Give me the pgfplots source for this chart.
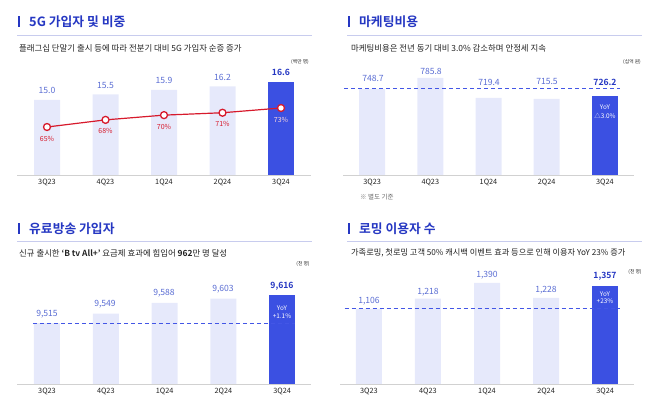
\documentclass[border=0pt]{standalone}
\usepackage{fontspec}
\setmainfont{Noto Sans CJK KR}[BoldFont={Noto Sans CJK KR Bold}]
\usepackage{pgfplots}
\pgfplotsset{compat=1.18}
\definecolor{lightbar}{HTML}{E6E9FB}
\definecolor{darkbar}{HTML}{3B50E2}
\definecolor{titleblue}{HTML}{2537C2}
\definecolor{lblblue}{HTML}{5A6DD3}
\definecolor{sepline}{HTML}{C8CCEE}
\definecolor{redline}{HTML}{D71A2C}
\definecolor{txt}{HTML}{222222}
\definecolor{dashc}{HTML}{4356E6}
\def\Y#1{{404pt-#1pt}}
\newcommand\fs[1]{\fontsize{#1}{#1}\selectfont}
\pgfplotsset{
  panel/.style={scale only axis, height=110pt, anchor=south west,
    axis x line*=bottom, hide y axis,
    x axis line style={draw=black!18, line width=0.7pt, -},
    xtick={0,1,2,3,4}, xticklabels={3Q23,4Q23,1Q24,2Q24,3Q24},
    major tick length=0pt,
    xticklabel style={font=\fs{7.3}, text=txt, yshift=-1pt},
    clip=false},
  lbar/.style={ybar, bar width=26pt, bar shift=0pt, fill=lightbar, draw=none},
  dbar/.style={ybar, bar width=26pt, bar shift=0pt, fill=darkbar, draw=none},
  dline/.style={color=dashc, solid, line width=1pt, dash pattern=on 4pt off 3pt}
}
\begin{document}
\begin{tikzpicture}
\useasboundingbox (0pt,0pt) rectangle (658pt,404pt);
% ---------- Titles, separators, subtitles ----------
\foreach \x/\y in {19/22, 349/22, 19/229, 349/229}{
  \fill[titleblue] (\x pt-0.9pt,\Y{\y-5.5}) rectangle (\x pt+0.9pt,\Y{\y+5.5});
}
\node[anchor=west, inner sep=0pt, text=titleblue, font=\fs{12.8}\bfseries] at (29pt,\Y{22}) {5G 가입자 및 비중};
\node[anchor=west, inner sep=0pt, text=titleblue, font=\fs{12.8}\bfseries] at (359pt,\Y{22}) {마케팅비용};
\node[anchor=west, inner sep=0pt, text=titleblue, font=\fs{12.8}\bfseries] at (29pt,\Y{229}) {유료방송 가입자};
\node[anchor=west, inner sep=0pt, text=titleblue, font=\fs{12.8}\bfseries] at (359pt,\Y{229}) {로밍 이용자 수};
\draw[sepline, line width=0.8pt] (17pt,\Y{35.5}) -- (312pt,\Y{35.5});
\draw[sepline, line width=0.8pt] (347pt,\Y{35.5}) -- (642pt,\Y{35.5});
\draw[sepline, line width=0.8pt] (17pt,\Y{241}) -- (312pt,\Y{241});
\draw[sepline, line width=0.8pt] (347pt,\Y{241}) -- (642pt,\Y{241});
\node[anchor=west, inner sep=0pt, text=txt, font=\fs{8.4}] at (19pt,\Y{48}) {플래그십 단말기 출시 등에 따라 전분기 대비 5G 가입자 순증 증가};
\node[anchor=west, inner sep=0pt, text=txt, font=\fs{8.4}] at (351pt,\Y{48}) {마케팅비용은 전년 동기 대비 3.0\% 감소하며 안정세 지속};
\node[anchor=west, inner sep=0pt, text=txt, font=\fs{8.4}] at (19pt,\Y{253}) {신규 출시한 \textbf{‘B tv All+’} 요금제 효과에 힘입어 \textbf{962}만 명 달성};
\node[anchor=west, inner sep=0pt, text=txt, font=\fs{8.2}] at (351pt,\Y{253}) {가족로밍, 첫로밍 고객 50\% 캐시백 이벤트 효과 등으로 인해 이용자 YoY 23\% 증가};
\node[inner sep=0pt, text=txt, font=\fs{4.8}] at (300pt,\Y{62}) {(백만 명)};
\node[inner sep=0pt, text=txt, font=\fs{4.8}] at (632pt,\Y{62}) {(십억 원)};
\node[inner sep=0pt, text=txt, font=\fs{4.8}] at (303pt,\Y{264}) {(천 명)};
\node[inner sep=0pt, text=txt, font=\fs{4.8}] at (635pt,\Y{272}) {(천 명)};
\node[anchor=west, inner sep=0pt, text=black!60, font=\fs{6.5}] at (360pt,\Y{197}) {※ 별도 기준};

% ---------- Panel 1: 5G ----------
\begin{axis}[panel, at={(17pt,\Y{175})}, width=294pt,
  xmin=-0.513, xmax=4.513, ymin=8.33, ymax=18.11]
\addplot[lbar] coordinates {(0,15.0) (1,15.5) (2,15.9) (3,16.2)};
\addplot[dbar] coordinates {(4,16.6)};
\end{axis}
\begin{axis}[scale only axis, height=110pt, width=294pt, anchor=south west,
  at={(17pt,\Y{175})}, hide axis, clip=false,
  xmin=-0.513, xmax=4.513, ymin=44.8, ymax=91.1]
\addplot[redline, line width=1.2pt, mark=*, mark size=3.5pt,
  mark options={fill=white, draw=redline, line width=1.3pt}]
  coordinates {(0,65) (1,68) (2,70) (3,71) (4,73)};
\foreach \i/\v in {0/65,1/68,2/70,3/71}{
  \edef\tmp{\noexpand\node[text=redline, font=\noexpand\fs{7}, yshift=-11.5pt] at (axis cs:\i,\v) {\v\noexpand\%};}\tmp
}
\node[text=red!15!white, font=\fs{7}, yshift=-11.5pt] at (axis cs:4,73) {73\%};
\end{axis}
\node[text=lblblue, font=\fs{8.6}] at (47pt,\Y{90}) {15.0};
\node[text=lblblue, font=\fs{8.6}] at (105.5pt,\Y{85}) {15.5};
\node[text=lblblue, font=\fs{8.6}] at (164pt,\Y{80}) {15.9};
\node[text=lblblue, font=\fs{8.6}] at (222.5pt,\Y{77}) {16.2};
\node[text=titleblue, font=\fs{8.6}\bfseries] at (281pt,\Y{72}) {16.6};

% ---------- Panel 2: Marketing ----------
\begin{axis}[panel, at={(343pt,\Y{175})}, width=291pt,
  xmin=-0.5, xmax=4.5, ymin=462, ymax=828.7]
\addplot[lbar] coordinates {(0,748.7) (1,785.8) (2,719.4) (3,715.5)};
\addplot[dbar] coordinates {(4,726.2)};
\addplot[dline] coordinates {(-0.48,748.7) (4.26,748.7)};
\end{axis}
\node[text=lblblue, font=\fs{8.6}] at (373pt,\Y{78}) {748.7};
\node[text=lblblue, font=\fs{8.6}] at (431pt,\Y{71}) {785.8};
\node[text=lblblue, font=\fs{8.6}] at (489pt,\Y{82}) {719.4};
\node[text=lblblue, font=\fs{8.6}] at (547pt,\Y{81}) {715.5};
\node[text=titleblue, font=\fs{8.6}\bfseries] at (605pt,\Y{82}) {726.2};
\node[text=white, font=\fs{6.4}] at (605pt,\Y{107}) {YoY};
\node[text=white, font=\fs{6.4}] at (605pt,\Y{115.5}) {△3.0\%};

% ---------- Panel 3: Pay TV ----------
\begin{axis}[panel, at={(17pt,\Y{384})}, width=294pt,
  xmin=-0.51, xmax=4.49, ymin=9295, ymax=9692]
\addplot[lbar] coordinates {(0,9515) (1,9549) (2,9588) (3,9603)};
\addplot[dbar] coordinates {(4,9616)};
\addplot[dline] coordinates {(-0.24,9515) (4.22,9515)};
\end{axis}
\node[text=lblblue, font=\fs{8.6}] at (47pt,\Y{314}) {9,515};
\node[text=lblblue, font=\fs{8.6}] at (105pt,\Y{304}) {9,549};
\node[text=lblblue, font=\fs{8.6}] at (164pt,\Y{293}) {9,588};
\node[text=lblblue, font=\fs{8.6}] at (223pt,\Y{289}) {9,603};
\node[text=titleblue, font=\fs{8.6}\bfseries] at (282pt,\Y{286}) {9,616};
\node[text=white, font=\fs{6.4}] at (282pt,\Y{308}) {YoY};
\node[text=white, font=\fs{6.4}] at (282pt,\Y{316}) {+1.1\%};

% ---------- Panel 4: Roaming ----------
\begin{axis}[panel, at={(340pt,\Y{384})}, width=294pt,
  xmin=-0.49, xmax=4.49, ymin=286, ymax=1488]
\addplot[lbar] coordinates {(0,1106) (1,1218) (2,1390) (3,1228)};
\addplot[dbar] coordinates {(4,1357)};
\addplot[dline] coordinates {(-0.41,1106) (4.25,1106)};
\end{axis}
\node[text=lblblue, font=\fs{8.6}] at (369pt,\Y{301}) {1,106};
\node[text=lblblue, font=\fs{8.6}] at (428pt,\Y{292}) {1,218};
\node[text=lblblue, font=\fs{8.6}] at (487pt,\Y{275}) {1,390};
\node[text=lblblue, font=\fs{8.6}] at (546pt,\Y{290}) {1,228};
\node[text=titleblue, font=\fs{8.6}\bfseries] at (605pt,\Y{276}) {1,357};
\node[text=white, font=\fs{6.4}] at (605pt,\Y{294}) {YoY};
\node[text=white, font=\fs{6.4}] at (605pt,\Y{301.5}) {+23\%};
\end{tikzpicture}
\end{document}
